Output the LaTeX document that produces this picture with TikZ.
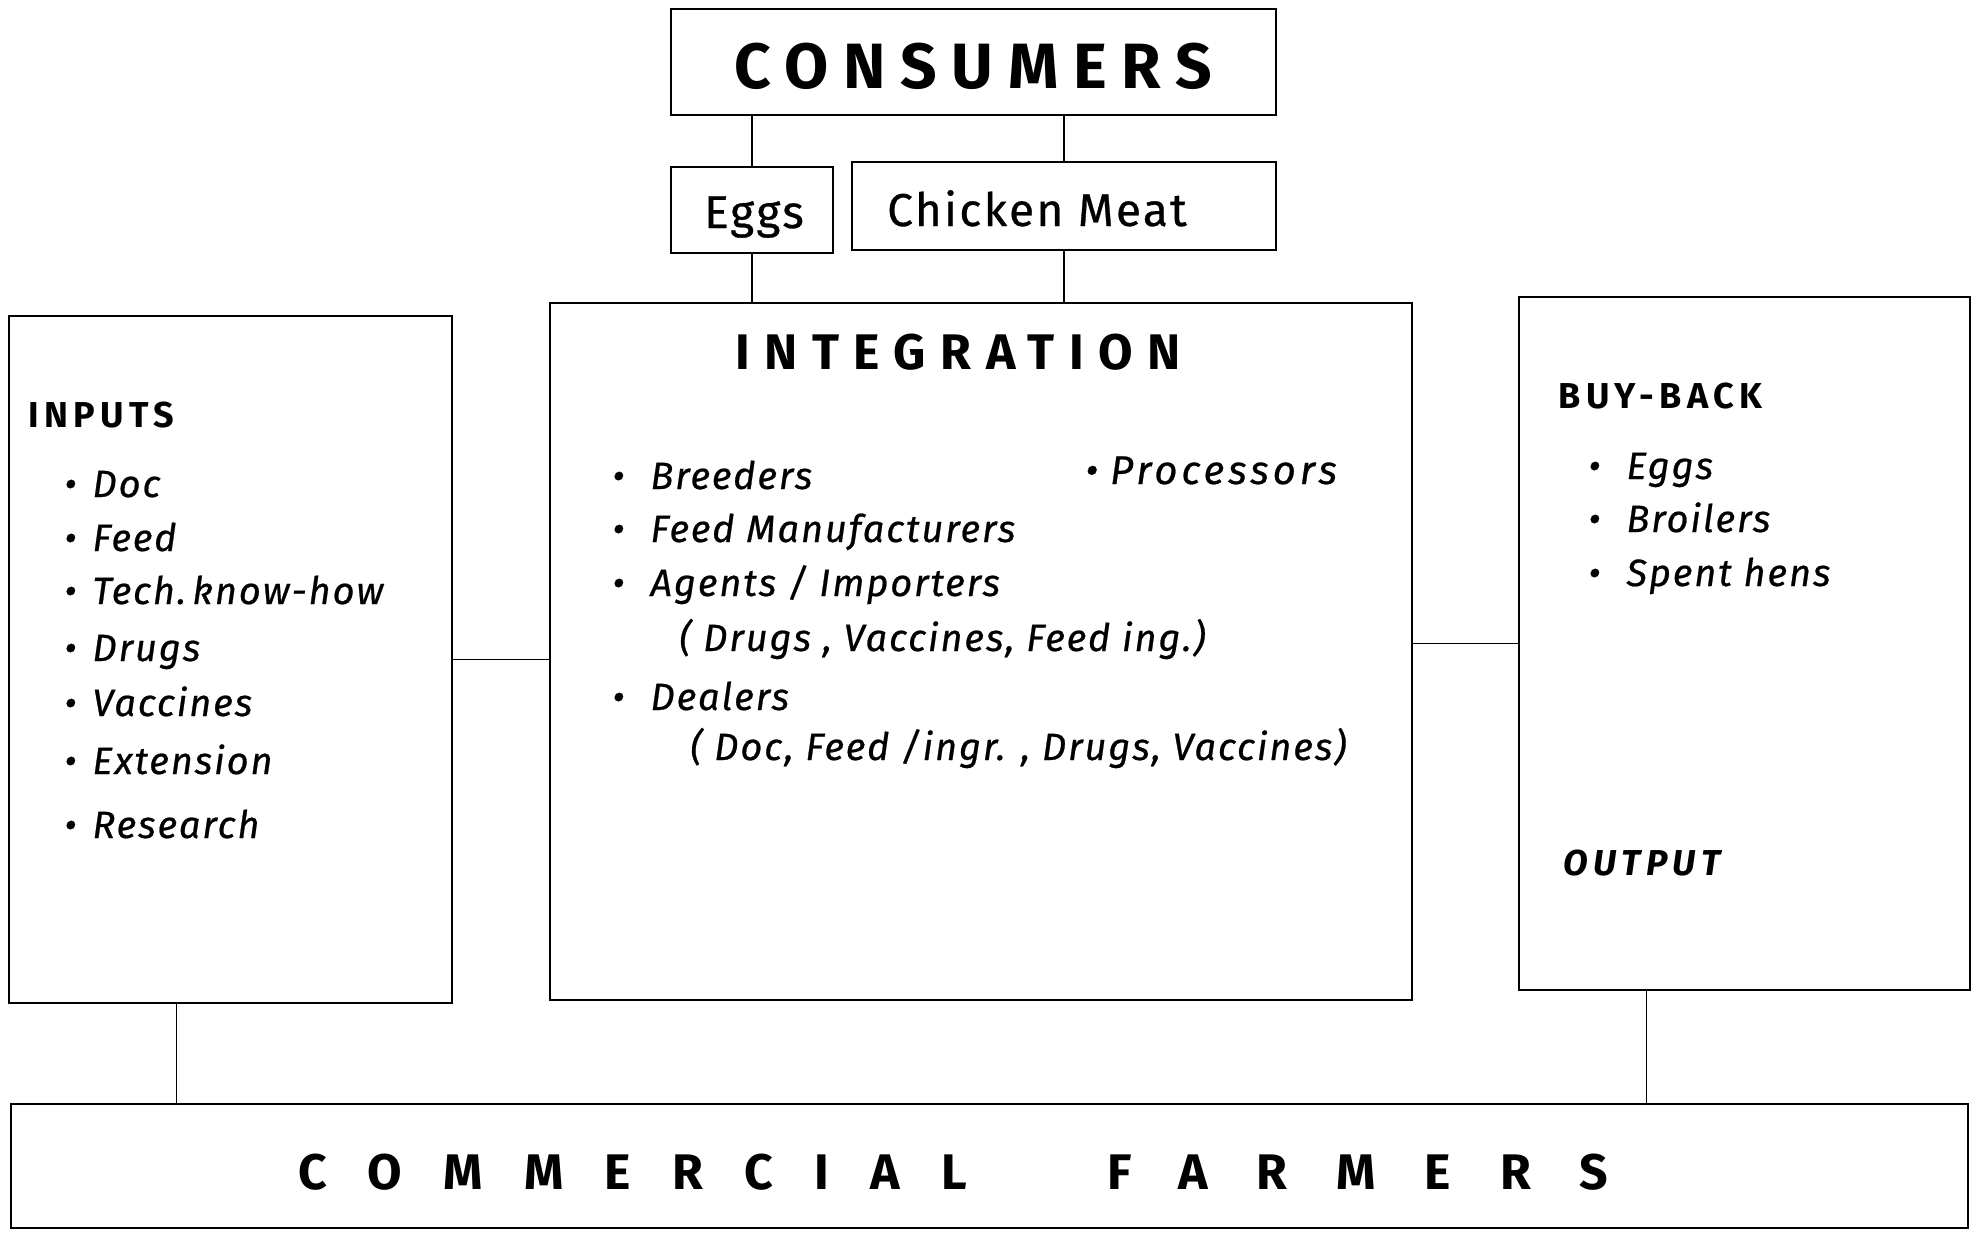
\documentclass[tikz,border=0pt]{standalone}
\usepackage{fontspec}
\setmainfont{Fira Sans}
\newfontfamily\handfont[LetterSpace=5, FakeBold=0.6]{Fira Sans}
\usetikzlibrary{positioning}
\newcommand{\bul}[1]{\textbullet\hspace{#1}}

\begin{document}
\begin{tikzpicture}[x=0.5pt, y=-0.5pt,
  box/.style={rectangle, draw, line width=1.4pt, inner sep=0pt},
  link/.style={line width=0.8pt},
  head/.style={anchor=base west, inner sep=0pt, font=\bfseries\fontsize{18}{20}\selectfont\addfontfeature{LetterSpace=15}},
  item/.style={anchor=base west, inner sep=0pt, font=\handfont\itshape\fontsize{19}{22}\selectfont}]
  \useasboundingbox (0,0) rectangle (1973,1236);

  \node[box, minimum width=302.5pt, minimum height=53pt] (consumers) at (973.5,62) {};
  \node[box, minimum width=81pt, minimum height=43pt] (eggs) at (752,210) {};
  \node[box, minimum width=212pt, minimum height=44pt] (meat) at (1064,206) {};
  \node[box, minimum width=221.5pt, minimum height=343.5pt] (inputs) at (230.5,659.5) {};
  \node[box, minimum width=431pt, minimum height=348.5pt] (integration) at (981,651.5) {};
  \node[box, minimum width=225.5pt, minimum height=346.5pt] (buyback) at (1744.5,643.5) {};
  \node[box, minimum width=978.5pt, minimum height=62pt] (farmers) at (989.5,1166) {};

  \node[anchor=base, inner sep=0pt, font=\bfseries\fontsize{32}{36}\selectfont\addfontfeature{LetterSpace=23}] (constxt) at (973,89) {CONSUMERS};
  \node[anchor=base, inner sep=0pt, font=\handfont\fontsize{23}{26}\selectfont] (eggstxt) at (754,228) {Eggs};
  \node[anchor=base, inner sep=0pt, font=\handfont\fontsize{23}{26}\selectfont] (meattxt) at (1037,226) {Chicken Meat};
  \node[anchor=base, inner sep=0pt, font=\bfseries\fontsize{25}{28}\selectfont\addfontfeature{LetterSpace=29}] (integtxt) at (958,369) {INTEGRATION};
  \node[anchor=base west, inner sep=0pt, font=\bfseries\fontsize{25}{28}\selectfont\addfontfeature{LetterSpace=83}] (farmtxt) at (298,1189)
    {COMMERCIAL\hspace{70pt}{\addfontfeature{LetterSpace=98}FARMERS}};

  \node[head] (inputstxt) at (28,427) {INPUTS};
  \node[item] (doc) at (64,497) {\bul{8pt}Doc};
  \node[item] (feed) at (64,551) {\bul{8pt}Feed};
  \node[item] (tech) at (64,604) {\bul{8pt}Tech.\,know-how};
  \node[item] (drugs) at (64,661) {\bul{8pt}Drugs};
  \node[item] (vacc) at (64,716) {\bul{8pt}Vaccines};
  \node[item] (ext) at (64,774) {\bul{8pt}Extension};
  \node[item] (res) at (64,838) {\bul{8pt}Research};

  \node[item] (breed) at (612,489) {\bul{13pt}Breeders};
  \node[item, font=\handfont\itshape\fontsize{20}{22}\selectfont\addfontfeature{LetterSpace=10}] (proc) at (1085,484) {\bul{6pt}Processors};
  \node[item] (feedman) at (612,542) {\bul{13pt}Feed Manufacturers};
  \node[item] (agents) at (612,596) {\bul{13pt}Agents / Importers};
  \node[item] (agentsnote) at (679,651) {( Drugs , Vaccines, Feed ing.)};
  \node[item] (dealers) at (612,710) {\bul{13pt}Dealers};
  \node[item] (dealersnote) at (690,760) {( Doc, Feed /ingr. , Drugs, Vaccines)};

  \node[head] (bbtxt) at (1558,408) {BUY-BACK};
  \node[item] (bbeggs) at (1588,479) {\bul{13pt}Eggs};
  \node[item] (broilers) at (1588,532) {\bul{13pt}Broilers};
  \node[item] (spent) at (1588,586) {\bul{13pt}Spent hens};
  \node[head, font=\bfseries\itshape\fontsize{18}{20}\selectfont\addfontfeature{LetterSpace=15}] (outtxt) at (1563,875) {OUTPUT};

  \draw[link] (eggs.north) -- (eggs.north |- consumers.south);
  \draw[link] (meat.north) -- (meat.north |- consumers.south);
  \draw[link] (eggs.south) -- (eggs.south |- integration.north);
  \draw[link] (meat.south) -- (meat.south |- integration.north);
  \draw[link] (inputs.east) -- (inputs.east -| integration.west);
  \draw[link] (buyback.west) -- (buyback.west -| integration.east);
  \draw[link] ([xshift=-27pt]inputs.south) -- ([xshift=-27pt]inputs.south |- farmers.north);
  \draw[link] ([xshift=-49pt]buyback.south) -- ([xshift=-49pt]buyback.south |- farmers.north);
\end{tikzpicture}
\end{document}
